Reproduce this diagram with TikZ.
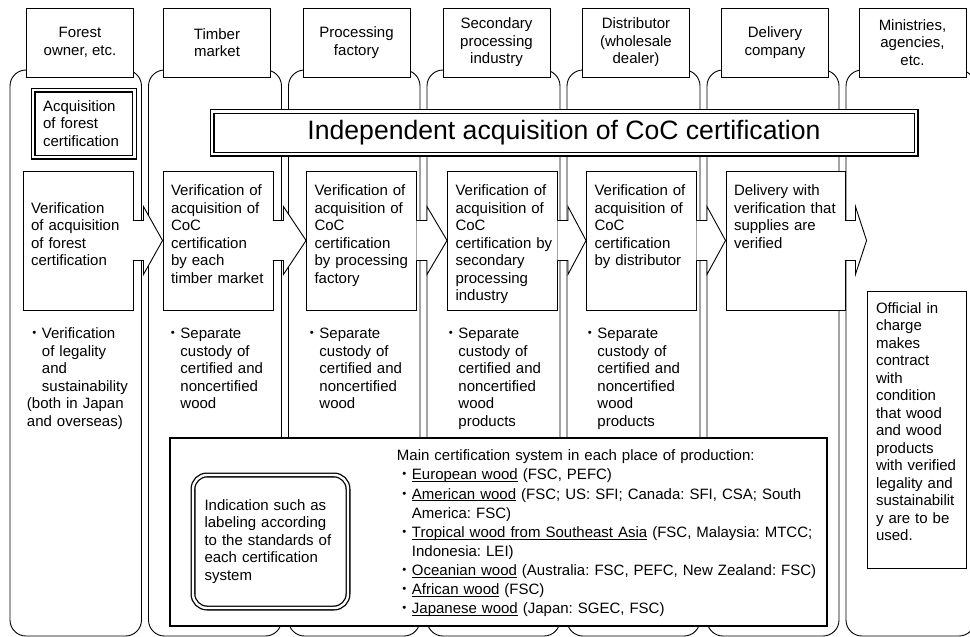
\documentclass[tikz,border=0pt]{standalone}
\usepackage{fontspec}
\setmainfont{Liberation Sans}
\newfontfamily\jpfont{Noto Sans CJK JP}
\frenchspacing
\hyphenpenalty=10000
\exhyphenpenalty=10000
\newcommand{\bul}{{\jpfont ・}}
\newcommand{\ind}{\hspace*{15pt}}
\newcommand{\areaname}[1]{\setbox0\hbox{#1}\rlap{\rule[-2.2pt]{\wd0}{0.9pt}}\box0\relax}

\begin{document}
\begin{tikzpicture}[x=1pt,y=-1pt,line width=0.9pt,font=\fontsize{15}{17.5}\selectfont,
	lane/.style={draw,rounded corners=16pt},
	head/.style={draw,fill=white,minimum width=107pt,minimum height=69pt,inner sep=1pt,align=center},
	twin/.style={draw,fill=white,double,double distance=2.4pt,line width=1.3pt,inner sep=0pt},
	check/.style={draw,fill=white,text width=94pt,inner xsep=8pt,inner ysep=7pt,align=left,text height=17.5pt,text depth=107.5pt},
	note/.style={anchor=north west,inner sep=0pt,text width=115pt,align=left,text height=11pt},
	block arrow/.style={draw,fill=white,to path={
		([xshift=-0.6pt,yshift=20pt]\tikztostart.east) -- ([xshift=10pt,yshift=20pt]\tikztostart.east)
		-- ([xshift=10pt,yshift=34pt]\tikztostart.east) -- (\tikztostart.east -| \tikztotarget.west)
		-- ([xshift=10pt,yshift=-34pt]\tikztostart.east) -- ([xshift=10pt,yshift=-20pt]\tikztostart.east)
		-- ([xshift=-0.6pt,yshift=-20pt]\tikztostart.east)}}]
	\useasboundingbox (0,0) rectangle (970,637);
	\clip (0,0) rectangle (970,637);

	% lanes
	\draw[lane]	(10,70) rectangle (141.5,636);
	\draw[lane]	(148.5,70) rectangle (281.5,636);
	\draw[lane]	(288.5,70) rectangle (420,636);
	\draw[lane]	(427,70) rectangle (560,636);
	\draw[lane]	(567,70) rectangle (700,636);
	\draw[lane]	(707,70) rectangle (839,636);
	\draw[lane]	(846,70) rectangle (975,636);

	% who does what
	\node[head]	(H1) at (80,42.5)		{Forest\\owner, etc.};
	\node[head]	(H2) at (217,42.5)		{Timber\\market};
	\node[head]	(H3) at (356.5,42.5)	{Processing\\factory};
	\node[head]	(H4) at (496.5,42.5)	{Secondary\\processing\\industry};
	\node[head]	(H5) at (636,42.5)		{Distributor\\(wholesale\\dealer)};
	\node[head]	(H6) at (775,42.5)		{Delivery\\company};
	\node[head]	(H7) at (912.5,42.5)	{Ministries,\\agencies,\\etc.};

	\node[twin,minimum width=704pt,minimum height=42.7pt,font=\fontsize{26.6}{30}\selectfont]
				(CoC) at (564,132.8)	{Independent acquisition of CoC certification};
	\node[twin,minimum width=101.5pt,minimum height=67pt,text width=81.5pt,inner xsep=10pt,align=left]
				(FC) at (83.75,123.5)	{Acquisition\\of forest\\certification};

	% verification chain
	\node[check,text height=35.4pt,text depth=89.6pt]
				(V1) at (78,240.5)		{Verification\\of acquisition\\of forest\\certification};
	\node[check]	(V2) at (218,240.5)		{Verification of\\acquisition of\\CoC\\certification\\by each\\timber market};
	\node[check]	(V3) at (361.5,240.5)	{Verification of\\acquisition of\\CoC\\certification\\by processing\\factory};
	\node[check]	(V4) at (502.5,240.5)	{Verification of\\acquisition of\\CoC\\certification~by\\secondary\\processing\\industry};
	\node[check]	(V5) at (641.5,240.5)	{Verification of\\acquisition of\\CoC\\certification\\by distributor};
	\node[check,text width=103pt]
				(V6) at (785.5,240.5)	{Delivery with\\verification~that\\supplies are\\verified};
	\node[draw,fill=white,text width=81pt,inner xsep=9pt,inner ysep=7pt,align=left,text height=15.4pt,text depth=247.6pt]
				(O) at (916.5,429.5)	{Official in\\charge\\makes\\contract\\with\\condition\\that wood\\and wood\\products\\with verified\\legality and\\sustainabilit\\y are to be\\used.};

	\path	(V1) edge[block arrow] (V2)
			(V2) edge[block arrow] (V3)
			(V3) edge[block arrow] (V4)
			(V4) edge[block arrow] (V5)
			(V5) edge[block arrow] (V6)
			(V6) edge[block arrow] (O);

	% custody notes
	\node[note]	(N1) at (26.5,327.4)	{\bul Verification\\\ind of legality\\\ind and\\\ind sustainability\\(both in Japan\\and overseas)};
	\node[note]	(N2) at (165,327.4)		{\bul Separate\\\ind custody of\\\ind certified and\\\ind noncertified\\\ind wood};
	\node[note]	(N3) at (304,327.4)		{\bul Separate\\\ind custody of\\\ind certified and\\\ind noncertified\\\ind wood};
	\node[note]	(N4) at (443,327.4)		{\bul Separate\\\ind custody of\\\ind certified and\\\ind noncertified\\\ind wood\\\ind products};
	\node[note]	(N5) at (582,327.4)		{\bul Separate\\\ind custody of\\\ind certified and\\\ind noncertified\\\ind wood\\\ind products};

	% labeling and certification systems
	\node[draw,fill=white,line width=1.3pt,minimum width=657pt,minimum height=188pt]
				(S) at (498.5,532)		{};
	\node[twin,rounded corners=14pt,minimum width=155pt,minimum height=133pt,text width=132pt,inner xsep=11.5pt,align=left]
				(I) at (270.5,541.5)	{Indication such as\\labeling according\\to the standards of\\each certification\\system};
	\node[note,text width=440pt,font=\fontsize{15}{19.1}\selectfont]
				(L) at (396.5,449.4)	{Main certification system in each place of production:\\
		\bul\areaname{European wood} (FSC, PEFC)\\
		\bul\areaname{American wood} (FSC; US: SFI; Canada: SFI, CSA; South\\
		\ind America: FSC)\\
		\bul\areaname{Tropical wood from Southeast Asia} (FSC, Malaysia: MTCC;\\
		\ind Indonesia: LEI)\\
		\bul\areaname{Oceanian wood} (Australia: FSC, PEFC, New Zealand: FSC)\\
		\bul\areaname{African wood} (FSC)\\
		\bul\areaname{Japanese wood} (Japan: SGEC, FSC)};
\end{tikzpicture}
\end{document}
